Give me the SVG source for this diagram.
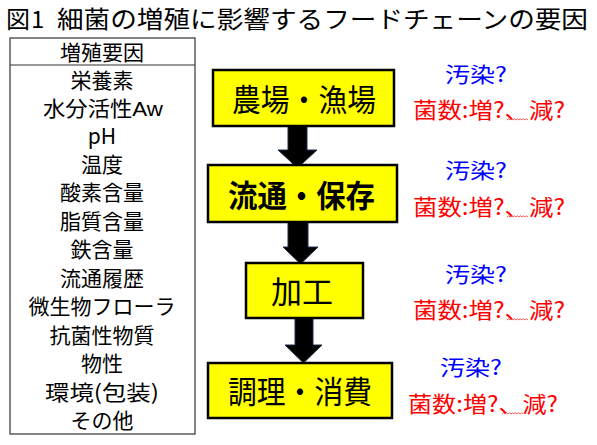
<svg xmlns="http://www.w3.org/2000/svg" width="597" height="445" viewBox="0 0 597 445">
<style>
text{font-family:"Noto Sans CJK JP","Noto Sans",sans-serif;}
.title{font-size:24px;fill:#000;}
.item{font-size:21px;fill:#000;text-anchor:middle;}
.box{fill:#ffff00;stroke:#000;stroke-width:2.5;}
.btxt{font-size:31px;fill:#000;}
.blue{font-size:21px;fill:#0000ff;}
.red{font-size:22px;fill:#ff0000;}
.arrow{fill:#000;stroke:#1f2f4f;stroke-width:1;}
.sq{fill:none;stroke:#ff3030;stroke-width:0.8;}
</style>
<rect width="597" height="445" fill="#fff"/>
<g id="title">
<text class="title" x="6" y="28">図</text>
<text class="title" x="31" y="28" font-family="Liberation Sans">1</text>
<text class="title" x="57" y="28" textLength="531" lengthAdjust="spacingAndGlyphs">細菌の増殖に影響するフードチェーンの要因</text>
</g>
<g id="factors">
<rect x="10" y="38" width="185" height="396" fill="#fff" stroke="#333" stroke-width="1.2"/>
<line x1="10" y1="65" x2="195" y2="65" stroke="#333" stroke-width="1.2"/>
<text class="item" x="102" y="60">増殖要因</text>
<text class="item" x="102" y="88">栄養素</text>
<text class="item" x="103" y="116" textLength="120" lengthAdjust="spacingAndGlyphs">水分活性<tspan font-family="Liberation Sans">Aw</tspan></text>
<text class="item" x="102" y="144" font-family="Liberation Sans" font-size="22">pH</text>
<text class="item" x="102" y="172">温度</text>
<text class="item" x="102" y="200">酸素含量</text>
<text class="item" x="102" y="229">脂質含量</text>
<text class="item" x="102" y="257">鉄含量</text>
<text class="item" x="102" y="286">流通履歴</text>
<text class="item" x="102" y="314" textLength="147" lengthAdjust="spacingAndGlyphs">微生物フローラ</text>
<text class="item" x="102" y="343">抗菌性物質</text>
<text class="item" x="102" y="371">物性</text>
<text class="item" x="102" y="400" textLength="114" lengthAdjust="spacingAndGlyphs">環境(包装)</text>
<text class="item" x="102" y="428">その他</text>
</g>
<g id="connectors">
<path class="arrow" d="M288,126 L307,126 L307,150 L317,150 L297.5,168 L278,150 L288,150 Z"/>
<path class="arrow" d="M288,222 L308,222 L308,247 L318,247 L300.5,264 L283,247 L288,247 Z"/>
<path class="arrow" d="M295,318 L313,318 L313,345 L322,345 L303.5,363 L285,345 L295,345 Z"/>
</g>
<g id="node-farm">
<rect class="box" x="213" y="70" width="181" height="56"/>
<text class="btxt" x="232" y="111" textLength="144" lengthAdjust="spacingAndGlyphs">農場・漁場</text>
</g>
<g id="node-distribution">
<rect class="box" x="208" y="165" width="189" height="57"/>
<text class="btxt" x="228" y="207" font-weight="bold" font-size="32" textLength="147" lengthAdjust="spacingAndGlyphs">流通・保存</text>
</g>
<g id="node-processing">
<rect class="box" x="246" y="263" width="117" height="55"/>
<text class="btxt" x="271" y="303">加工</text>
</g>
<g id="node-consumption">
<rect class="box" x="208" y="363" width="184" height="55"/>
<text class="btxt" x="228" y="403" textLength="144" lengthAdjust="spacingAndGlyphs">調理・消費</text>
</g>
<g id="notes">
<text class="blue" x="445" y="82" textLength="62" lengthAdjust="spacingAndGlyphs">汚染?</text>
<text class="red" x="413" y="118" textLength="152" lengthAdjust="spacingAndGlyphs">菌数:増?、減?</text>
<path class="sq" d="M507,120 l1.5,-1.2 l1.5,1.2 l1.5,-1.2 l1.5,1.2 l1.5,-1.2 l1.5,1.2 l1.5,-1.2 l1.5,1.2 l1.5,-1.2 l1.5,1.2 l1.5,-1.2 l1.5,1.2 l1.5,-1.2 l1.5,1.2"/>
<text class="blue" x="445" y="178" textLength="62" lengthAdjust="spacingAndGlyphs">汚染?</text>
<text class="red" x="413" y="215" textLength="152" lengthAdjust="spacingAndGlyphs">菌数:増?、減?</text>
<path class="sq" d="M507,217 l1.5,-1.2 l1.5,1.2 l1.5,-1.2 l1.5,1.2 l1.5,-1.2 l1.5,1.2 l1.5,-1.2 l1.5,1.2 l1.5,-1.2 l1.5,1.2 l1.5,-1.2 l1.5,1.2 l1.5,-1.2 l1.5,1.2"/>
<text class="blue" x="445" y="282" textLength="62" lengthAdjust="spacingAndGlyphs">汚染?</text>
<text class="red" x="413" y="318" textLength="152" lengthAdjust="spacingAndGlyphs">菌数:増?、減?</text>
<path class="sq" d="M507,320 l1.5,-1.2 l1.5,1.2 l1.5,-1.2 l1.5,1.2 l1.5,-1.2 l1.5,1.2 l1.5,-1.2 l1.5,1.2 l1.5,-1.2 l1.5,1.2 l1.5,-1.2 l1.5,1.2 l1.5,-1.2 l1.5,1.2"/>
<text class="blue" x="440" y="375" textLength="62" lengthAdjust="spacingAndGlyphs">汚染?</text>
<text class="red" x="408" y="412" textLength="150" lengthAdjust="spacingAndGlyphs">菌数:増?、減?</text>
<path class="sq" d="M502,414 l1.5,-1.2 l1.5,1.2 l1.5,-1.2 l1.5,1.2 l1.5,-1.2 l1.5,1.2 l1.5,-1.2 l1.5,1.2 l1.5,-1.2 l1.5,1.2 l1.5,-1.2 l1.5,1.2 l1.5,-1.2 l1.5,1.2"/>
</g>
</svg>
